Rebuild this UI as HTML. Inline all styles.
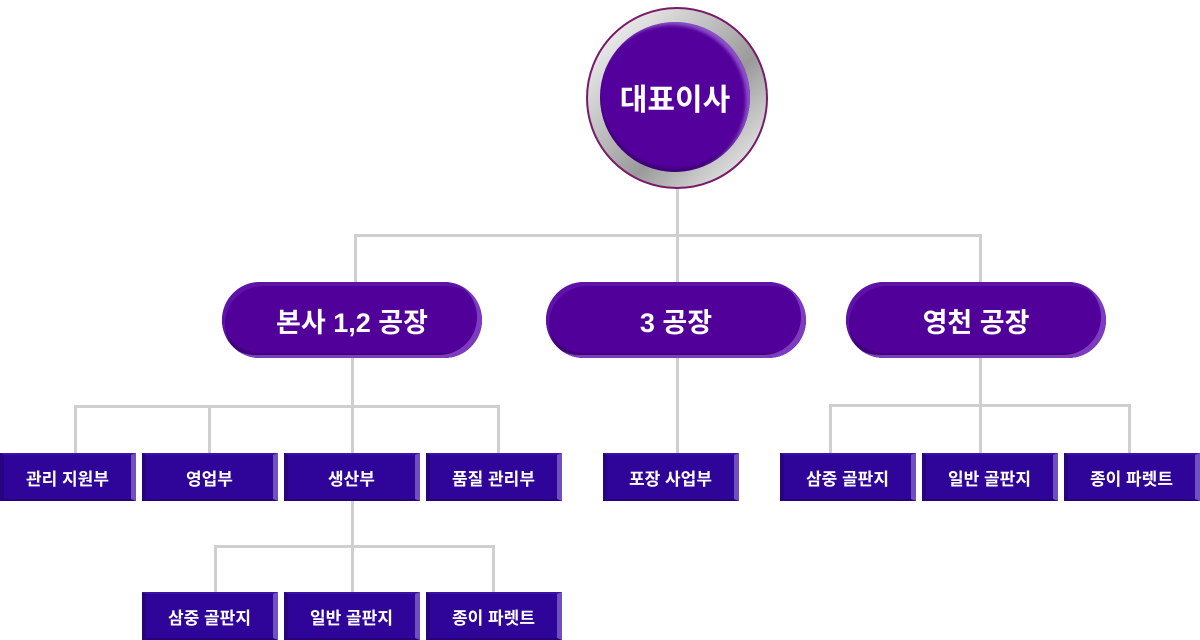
<!DOCTYPE html><html><head><meta charset="utf-8"><style>
body{margin:0;width:1200px;height:640px;background:#fff;position:relative;overflow:hidden;font-family:"Liberation Sans","Noto Sans CJK KR",sans-serif}
.l{position:absolute;background:#cfcfcf}
.b{position:absolute;width:136px;height:48px;background:#2f0499;color:#fff;font-weight:bold;font-size:17px;display:flex;align-items:center;justify-content:center;box-sizing:border-box;border-left:4px solid #270380;border-right:5px solid #7050c0;border-top:2px solid #3a12a8;border-bottom:2px solid #25037a}
.p{position:absolute;top:282px;width:260px;height:76px;border-radius:38px;background:#51009a;color:#fff;font-weight:bold;font-size:27px;display:flex;align-items:center;justify-content:center;box-shadow:inset -5px -3px 0 #7d3cc0,inset 3px 4px 0 #5e12a8,inset 0 -5px 0 #40007a}
</style></head><body>
<div class="l" style="left:676px;top:185px;width:3px;height:52px"></div>
<div class="l" style="left:354px;top:234px;width:628px;height:3px"></div>
<div class="l" style="left:354px;top:234px;width:3px;height:50px"></div>
<div class="l" style="left:676px;top:234px;width:3px;height:50px"></div>
<div class="l" style="left:979px;top:234px;width:3px;height:50px"></div>
<div class="l" style="left:351px;top:356px;width:3px;height:52px"></div>
<div class="l" style="left:74px;top:405px;width:426px;height:3px"></div>
<div class="l" style="left:74px;top:405px;width:3px;height:50px"></div>
<div class="l" style="left:208px;top:405px;width:3px;height:50px"></div>
<div class="l" style="left:351px;top:405px;width:3px;height:50px"></div>
<div class="l" style="left:497px;top:405px;width:3px;height:50px"></div>
<div class="l" style="left:676px;top:356px;width:3px;height:99px"></div>
<div class="l" style="left:979px;top:356px;width:3px;height:50px"></div>
<div class="l" style="left:829px;top:404px;width:302px;height:3px"></div>
<div class="l" style="left:829px;top:404px;width:3px;height:50px"></div>
<div class="l" style="left:979px;top:404px;width:3px;height:50px"></div>
<div class="l" style="left:1128px;top:404px;width:3px;height:50px"></div>
<div class="l" style="left:351px;top:499px;width:3px;height:48px"></div>
<div class="l" style="left:214px;top:545px;width:281px;height:3px"></div>
<div class="l" style="left:214px;top:545px;width:3px;height:49px"></div>
<div class="l" style="left:351px;top:545px;width:3px;height:49px"></div>
<div class="l" style="left:492px;top:545px;width:3px;height:49px"></div>
<div style="position:absolute;left:586px;top:7px;width:178px;height:178px;border-radius:50%;border:2px solid #7a1a6a;background:linear-gradient(135deg,#fff 0%,#bdbdbd 40%,#9a9a9a 60%,#fff 100%);"></div>
<div style="position:absolute;left:600px;top:22px;width:150px;height:150px;border-radius:50%;background:#54009c;box-shadow:inset -4px 3px 3px #8a50c8,inset 0 -4px 2px #40007a;color:#fff;font-weight:bold;font-size:30px;display:flex;align-items:center;justify-content:center">대표이사</div>
<div class="p" style="left:222px">본사 1,2 공장</div>
<div class="p" style="left:546px">3 공장</div>
<div class="p" style="left:846px">영천 공장</div>
<div class="b" style="left:0;top:453px">관리 지원부</div>
<div class="b" style="left:142px;top:453px">영업부</div>
<div class="b" style="left:284px;top:453px">생산부</div>
<div class="b" style="left:426px;top:453px">품질 관리부</div>
<div class="b" style="left:603px;top:453px">포장 사업부</div>
<div class="b" style="left:780px;top:453px">삼중 골판지</div>
<div class="b" style="left:922px;top:453px">일반 골판지</div>
<div class="b" style="left:1064px;top:453px">종이 파렛트</div>
<div class="b" style="left:142px;top:592px">삼중 골판지</div>
<div class="b" style="left:284px;top:592px">일반 골판지</div>
<div class="b" style="left:426px;top:592px">종이 파렛트</div>
</body></html>
